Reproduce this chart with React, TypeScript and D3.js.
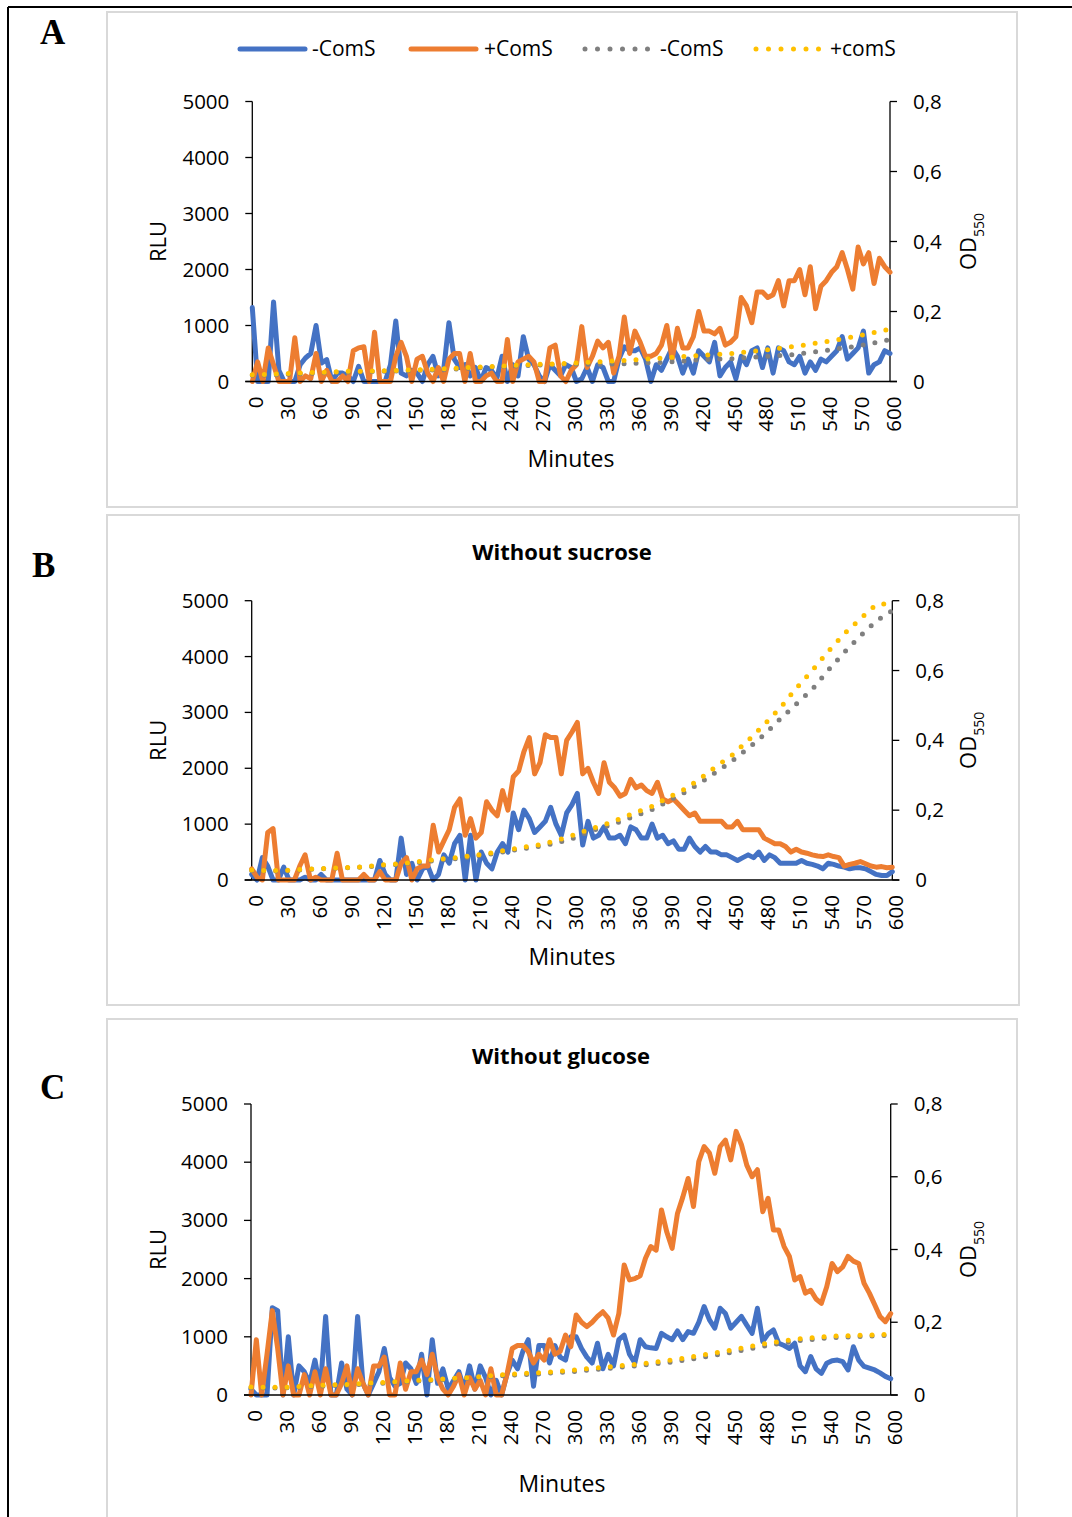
import React from 'react';
import * as d3 from 'd3';

// ---------- categories ----------
const minutes = d3.range(0, 601, 5);
const xTickValues = d3.range(0, 601, 30);
const rluTicks = [0, 1000, 2000, 3000, 4000, 5000];
const odTicks = [0, 0.2, 0.4, 0.6, 0.8];
const odMinutes30 = d3.range(0, 601, 30);
const odMinutes15 = d3.range(0, 601, 15);

// ---------- Panel A (RLU, every 5 min) ----------
const aMinusComS = [
  1320, 0, 0, 0, 1420, 200, 0, 0, 0, 300, 420, 500,
  1000, 330, 390, 0, 150, 150, 100, 0, 270, 0, 0, 0,
  0, 0, 300, 1080, 150, 100, 200, 150, 0, 300, 450, 100,
  200, 1050, 400, 250, 300, 100, 250, 0, 250, 200, 50, 450,
  0, 300, 100, 800, 400, 300, 100, 0, 300, 200, 100, 300,
  250, 0, 50, 250, 0, 300, 250, 0, 0, 400, 620, 550,
  550, 600, 400, 0, 300, 200, 400, 600, 450, 150, 400, 150,
  550, 450, 350, 700, 100, 250, 350, 50, 450, 300, 550, 600,
  250, 600, 150, 600, 550, 350, 300, 450, 150, 350, 200, 400,
  350, 450, 550, 800, 400, 500, 600, 900, 150, 300, 350, 550,
  500,
];
const aPlusComS = [
  0, 350, 0, 600, 300, 0, 0, 0, 780, 0, 100, 50,
  500, 0, 200, 0, 0, 100, 0, 550, 600, 620, 0, 880,
  0, 0, 0, 450, 700, 450, 0, 400, 450, 150, 0, 250,
  0, 400, 500, 500, 0, 500, 0, 0, 100, 150, 0, 0,
  750, 0, 350, 400, 450, 350, 0, 0, 600, 650, 100, 0,
  200, 300, 980, 250, 450, 720, 600, 700, 150, 450, 1150, 500,
  900, 700, 450, 450, 500, 650, 1000, 400, 950, 600, 600, 800,
  1250, 900, 900, 850, 950, 650, 700, 800, 1500, 1350, 1050, 1600,
  1600, 1500, 1550, 1800, 1350, 1800, 1800, 2000, 1550, 2050, 1300, 1700,
  1800, 1950, 2050, 2300, 2000, 1650, 2400, 2100, 2300, 1750, 2200, 2050,
  1950,
];
// OD550 every 30 min
const aOdMinus = [0.018, 0.02, 0.024, 0.027, 0.029, 0.031, 0.034, 0.039, 0.043, 0.047, 0.05, 0.049, 0.052, 0.055, 0.062, 0.065, 0.071, 0.077, 0.089, 0.101, 0.12];
const aOdPlus = [0.019, 0.022, 0.026, 0.029, 0.030, 0.033, 0.036, 0.041, 0.045, 0.049, 0.052, 0.057, 0.062, 0.068, 0.074, 0.080, 0.089, 0.100, 0.114, 0.130, 0.150];

// ---------- Panel B ----------
const bMinusComS = [
  100, 0, 400, 250, 0, 0, 230, 0, 0, 0, 50, 0,
  0, 100, 0, 0, 0, 0, 0, 0, 0, 0, 0, 0,
  350, 100, 0, 0, 750, 100, 300, 0, 200, 250, 0, 100,
  450, 300, 650, 800, 0, 800, 0, 500, 300, 200, 500, 650,
  500, 1200, 900, 1250, 1100, 850, 950, 1050, 1300, 1000, 800, 1200,
  1350, 1550, 625, 1050, 750, 800, 950, 750, 750, 800, 650, 950,
  900, 750, 750, 1000, 750, 800, 650, 700, 550, 550, 750, 600,
  500, 600, 500, 500, 450, 450, 400, 350, 400, 450, 400, 500,
  350, 450, 400, 300, 300, 300, 300, 350, 300, 280, 250, 200,
  300, 280, 250, 230, 200, 220, 220, 200, 150, 100, 80, 80,
  150,
];
const bPlusComS = [
  200, 50, 0, 850, 920, 0, 0, 0, 0, 250, 450, 0,
  50, 0, 0, 0, 480, 0, 0, 0, 0, 100, 0, 0,
  150, 0, 0, 0, 300, 400, 0, 200, 250, 250, 980, 500,
  700, 900, 1300, 1450, 800, 1100, 750, 850, 1400, 1250, 1150, 1600,
  1250, 1850, 1950, 2300, 2550, 1900, 2100, 2600, 2550, 2550, 1900, 2500,
  2650, 2820, 1900, 2000, 1750, 1550, 2100, 1750, 1650, 1500, 1550, 1800,
  1650, 1700, 1600, 1550, 1750, 1450, 1400, 1450, 1350, 1250, 1150, 1200,
  1050, 1050, 1050, 1050, 1050, 950, 950, 1050, 900, 900, 900, 900,
  750, 700, 650, 650, 600, 500, 550, 500, 480, 450, 430, 420,
  450, 420, 400, 250, 280, 300, 330, 290, 250, 230, 240, 220,
  230,
];
// OD550 every 15 min
const bOdMinus = [0.027, 0.026, 0.026, 0.029, 0.031, 0.033, 0.035, 0.037, 0.041, 0.044, 0.048, 0.053, 0.058, 0.062, 0.068, 0.075, 0.083, 0.090, 0.097, 0.106, 0.118, 0.138, 0.152, 0.167, 0.184, 0.202, 0.226, 0.250, 0.278, 0.309, 0.341, 0.377, 0.416, 0.461, 0.504, 0.546, 0.601, 0.652, 0.699, 0.742, 0.772];
const bOdPlus = [0.029, 0.027, 0.027, 0.030, 0.032, 0.034, 0.036, 0.038, 0.043, 0.046, 0.050, 0.056, 0.061, 0.065, 0.071, 0.078, 0.087, 0.094, 0.101, 0.113, 0.127, 0.144, 0.158, 0.175, 0.194, 0.211, 0.236, 0.259, 0.290, 0.325, 0.358, 0.400, 0.445, 0.493, 0.549, 0.600, 0.655, 0.705, 0.748, 0.789, 0.793];

// ---------- Panel C ----------
const cMinusComS = [
  100, 0, 0, 0, 1500, 1450, 0, 1000, 0, 500, 400, 200,
  600, 100, 1350, 0, 0, 550, 100, 0, 1350, 200, 0, 200,
  400, 800, 300, 150, 200, 550, 450, 200, 700, 0, 950, 200,
  450, 100, 250, 400, 100, 500, 100, 500, 300, 0, 250, 0,
  350, 600, 450, 750, 950, 150, 850, 850, 550, 850, 650, 600,
  1000, 1000, 800, 650, 550, 890, 450, 700, 500, 950, 1030, 700,
  550, 950, 830, 810, 800, 1060, 1000, 950, 1100, 950, 1090, 1060,
  1250, 1520, 1290, 1150, 1490, 1400, 1150, 1250, 1350, 1200, 1060, 1490,
  917, 1050, 1117, 890, 850, 800, 890, 500, 400, 660, 450, 372,
  545, 590, 600, 573, 430, 830, 600, 490, 460, 430, 380, 320,
  280,
];
const cPlusComS = [
  0, 950, 0, 700, 1450, 800, 0, 500, 0, 0, 350, 0,
  400, 0, 450, 0, 0, 200, 500, 0, 450, 200, 0, 500,
  500, 650, 0, 0, 550, 100, 400, 400, 600, 350, 700, 300,
  100, 0, 150, 350, 0, 300, 100, 250, 0, 450, 0, 0,
  350, 800, 850, 850, 750, 550, 700, 600, 950, 700, 750, 1030,
  830, 1375, 1250, 1175, 1250, 1350, 1430, 1320, 1030, 1400, 2235, 1977,
  2000, 2050, 2350, 2550, 2490, 3180, 2800, 2520, 3120, 3400, 3720, 3240,
  4010, 4270, 4155, 3810, 4270, 4380, 4040, 4530, 4300, 3950, 3750, 3870,
  3150, 3380, 2835, 2835, 2550, 2380, 1977, 2034, 1750, 1800, 1650, 1575,
  1860, 2260, 2120, 2200, 2380, 2300, 2260, 1920, 1750, 1550, 1350, 1260,
  1400,
];
const cOdMinus = [0.020, 0.019, 0.024, 0.027, 0.032, 0.037, 0.042, 0.047, 0.054, 0.058, 0.064, 0.072, 0.080, 0.089, 0.102, 0.117, 0.134, 0.148, 0.157, 0.161, 0.164];
const cOdPlus = [0.022, 0.021, 0.026, 0.029, 0.034, 0.039, 0.044, 0.049, 0.057, 0.061, 0.068, 0.076, 0.084, 0.094, 0.108, 0.123, 0.140, 0.153, 0.161, 0.164, 0.167];

// ---------- legend ----------
const legendLabels = ['-ComS', '+ComS', '-ComS', '+comS'];

const BLUE = '#4472C4';
const ORANGE = '#ED7D31';
const GRAY = '#7F7F7F';
const YELLOW = '#FFC000';
const FONT = "'Open Sans', 'Noto Sans', sans-serif";

type PanelCfg = {
  box: [number, number, number, number];
  x0: number; x1: number; yTop: number; yBot: number;
  letter: string; letterX: number; letterY: number;
  title?: string; titleX?: number; titleY?: number;
  minutesX: number; minutesY: number;
  legend?: boolean;
};

function Panel({ cfg, blue, orange, gray, yellow, odX }: {
  cfg: PanelCfg; blue: number[]; orange: number[]; gray: number[]; yellow: number[]; odX: number[];
}) {
  const x = d3.scaleLinear().domain([0, 600]).range([cfg.x0, cfg.x1]);
  const y = d3.scaleLinear().domain([0, 5000]).range([cfg.yBot, cfg.yTop]);
  const yOd = d3.scaleLinear().domain([0, 0.8]).range([cfg.yBot, cfg.yTop]);
  const rluLine = d3.line<number>().x((_, i) => x(minutes[i])).y((d) => y(d));
  const odLine = d3.line<number>().x((_, i) => x(odX[i])).y((d) => yOd(d));
  const [bx, by, bw, bh] = cfg.box;
  const midY = (cfg.yTop + cfg.yBot) / 2;
  return (
    <g>
      <rect x={bx} y={by} width={bw} height={bh} fill="#fff" stroke="#D9D9D9" strokeWidth={2} />
      <text x={cfg.letterX} y={cfg.letterY} fontFamily="'Liberation Serif', 'Times New Roman', serif" fontWeight="bold" fontSize={35}>{cfg.letter}</text>
      {cfg.title && (
        <text x={cfg.titleX} y={cfg.titleY} textAnchor="middle" fontFamily={FONT} fontWeight="bold" fontSize={22}>{cfg.title}</text>
      )}
      {/* axes */}
      <g stroke="#000" strokeWidth={1.3} fill="none">
        <line x1={cfg.x0} x2={cfg.x0} y1={cfg.yTop} y2={cfg.yBot} />
        <line x1={cfg.x1} x2={cfg.x1} y1={cfg.yTop} y2={cfg.yBot} />
        {rluTicks.map((t) => (
          <line key={'l' + t} x1={cfg.x0 - 7} x2={cfg.x0} y1={y(t)} y2={y(t)} />
        ))}
        {odTicks.map((t) => (
          <line key={'r' + t} x1={cfg.x1} x2={cfg.x1 + 7} y1={yOd(t)} y2={yOd(t)} />
        ))}
      </g>
      {rluTicks.map((t) => (
        <text key={'lt' + t} x={cfg.x0 - 23} y={y(t) + 7} textAnchor="end" fontFamily={FONT} fontSize={20.5}>{t}</text>
      ))}
      {odTicks.map((t) => (
        <text key={'rt' + t} x={cfg.x1 + 23} y={yOd(t) + 7} fontFamily={FONT} fontSize={20.5}>{t === 0 ? '0' : t.toFixed(1).replace('.', ',')}</text>
      ))}
      {xTickValues.map((t) => (
        <text key={'xt' + t} transform={`translate(${x(t) + 11},${cfg.yBot + 15}) rotate(-90)`} textAnchor="end" fontFamily={FONT} fontSize={20.5}>{t}</text>
      ))}
      <text transform={`translate(166,${midY}) rotate(-90)`} textAnchor="middle" fontFamily={FONT} fontSize={22}>RLU</text>
      <text transform={`translate(976,${midY}) rotate(-90)`} textAnchor="middle" fontFamily={FONT} fontSize={22}>
        OD<tspan fontSize={14} dy={8}>550</tspan>
      </text>
      <text x={cfg.minutesX} y={cfg.minutesY} textAnchor="middle" fontFamily={FONT} fontSize={23}>Minutes</text>
      {/* series */}
      <path d={rluLine(blue) || ''} fill="none" stroke={BLUE} strokeWidth={5} strokeLinejoin="round" strokeLinecap="round" />
      <path d={rluLine(orange) || ''} fill="none" stroke={ORANGE} strokeWidth={5} strokeLinejoin="round" strokeLinecap="round" />
      <line x1={cfg.x0 - 7} x2={cfg.x1 + 7} y1={cfg.yBot} y2={cfg.yBot} stroke="#000" strokeWidth={1.3} />
      <path d={odLine(gray) || ''} fill="none" stroke={GRAY} strokeWidth={5} strokeDasharray="0 12" strokeLinecap="round" />
      <path d={odLine(yellow) || ''} fill="none" stroke={YELLOW} strokeWidth={5} strokeDasharray="0 12" strokeLinecap="round" />
      {cfg.legend && (
        <g fontFamily={FONT} fontSize={21}>
          <line x1={240} x2={305} y1={49} y2={49} stroke={BLUE} strokeWidth={5} strokeLinecap="round" />
          <text x={312} y={56}>{legendLabels[0]}</text>
          <line x1={411} x2={476} y1={49} y2={49} stroke={ORANGE} strokeWidth={5} strokeLinecap="round" />
          <text x={484} y={56}>{legendLabels[1]}</text>
          <line x1={585} x2={650} y1={49} y2={49} stroke={GRAY} strokeWidth={5} strokeDasharray="0 12.5" strokeLinecap="round" />
          <text x={660} y={56}>{legendLabels[2]}</text>
          <line x1={756} x2={821} y1={49} y2={49} stroke={YELLOW} strokeWidth={5} strokeDasharray="0 12.5" strokeLinecap="round" />
          <text x={830} y={56}>{legendLabels[3]}</text>
        </g>
      )}
    </g>
  );
}

const panelA: PanelCfg = {
  box: [107, 12, 910, 495], x0: 252.3, x1: 890, yTop: 101.5, yBot: 381.5,
  letter: 'A', letterX: 40, letterY: 44, minutesX: 571, minutesY: 467, legend: true,
};
const panelB: PanelCfg = {
  box: [107, 515, 912, 490], x0: 251.7, x1: 892.3, yTop: 600.7, yBot: 880,
  letter: 'B', letterX: 32, letterY: 577, title: 'Without sucrose', titleX: 562, titleY: 560,
  minutesX: 572, minutesY: 965,
};
const panelC: PanelCfg = {
  box: [107, 1019, 910, 520], x0: 251, x1: 890.7, yTop: 1104, yBot: 1395,
  letter: 'C', letterX: 40, letterY: 1099, title: 'Without glucose', titleX: 561, titleY: 1064,
  minutesX: 562, minutesY: 1492,
};

export default function App() {
  return (
    <svg width={1072} height={1517} style={{ position: 'absolute', left: 0, top: 0, background: '#fff' }}>
      <rect x={0} y={0} width={1072} height={1517} fill="#fff" />
      <Panel cfg={panelA} blue={aMinusComS} orange={aPlusComS} gray={aOdMinus} yellow={aOdPlus} odX={odMinutes30} />
      <Panel cfg={panelB} blue={bMinusComS} orange={bPlusComS} gray={bOdMinus} yellow={bOdPlus} odX={odMinutes15} />
      <Panel cfg={panelC} blue={cMinusComS} orange={cPlusComS} gray={cOdMinus} yellow={cOdPlus} odX={odMinutes30} />
      <line x1={8} x2={1072} y1={7} y2={7} stroke="#000" strokeWidth={2} />
      <line x1={8} x2={8} y1={7} y2={1517} stroke="#000" strokeWidth={2} />
    </svg>
  );
}
